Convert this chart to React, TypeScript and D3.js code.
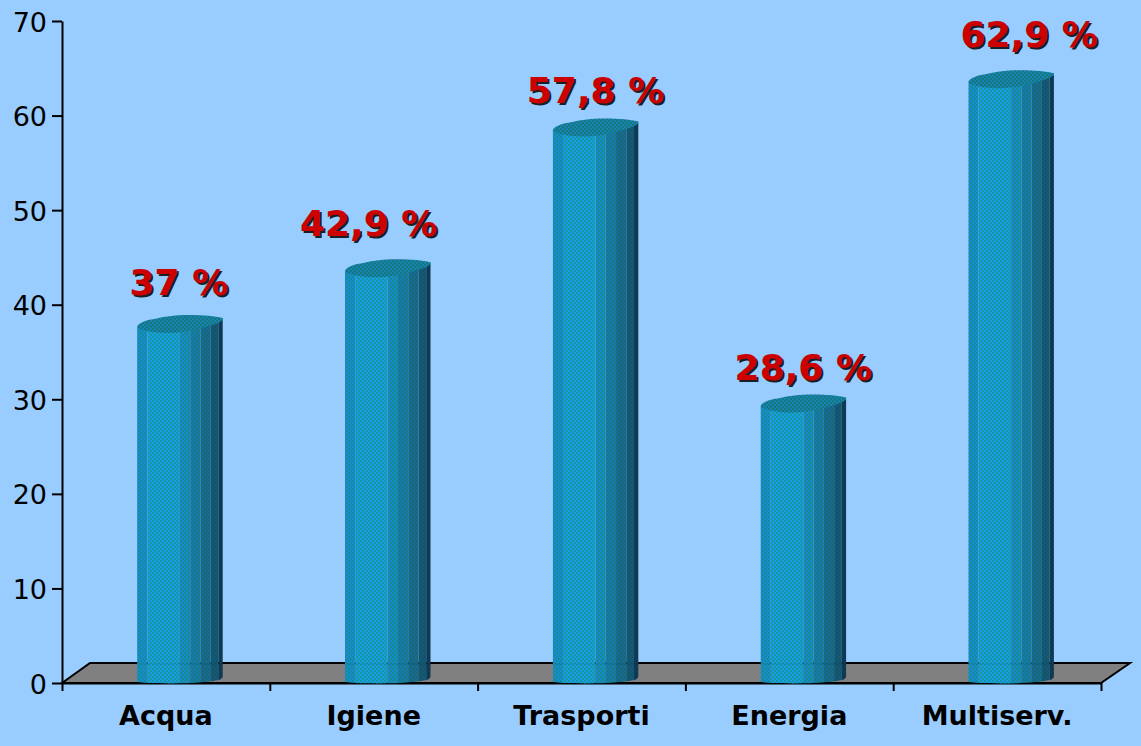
import React, {useEffect, useRef} from "react";
import * as d3 from "d3";

const categories = ["Acqua", "Igiene", "Trasporti", "Energia", "Multiserv."];
const values = [37, 42.9, 57.8, 28.6, 62.9];
const valueLabels = ["37 %", "42,9 %", "57,8 %", "28,6 %", "62,9 %"];
const yTicks = [0, 10, 20, 30, 40, 50, 60, 70];

const W = 1141;
const H = 746;
const FONT = "'DejaVu Sans', Verdana, sans-serif";

// the labels were placed by hand in the original, so they don't sit at a fixed distance
const labelGap = [38, 41, 33, 33, 41];
const labelShift = [0, -18, 1, 1, 19];

// vertical strips of the cylinder: start, end (share of width), two dither colours
const strips: [number, number, string, string][] = [
    [0, 0.12, "#2088d0", "#0c90a0"],
    [0.12, 0.5, "#2498e8", "#0a9ca0"],
    [0.5, 0.62, "#2088c8", "#0c8c98"],
    [0.62, 0.74, "#1c78ac", "#107c8c"],
    [0.74, 0.86, "#1b6894", "#126a7a"],
    [0.86, 0.95, "#175878", "#10566a"],
    [0.95, 1.01, "#103c58", "#0e384e"],
];

const App = () => {
    const svgRef = useRef<SVGSVGElement | null>(null);

    useEffect(() => {
        const svg = d3.select(svgRef.current);
        svg.selectAll("*").remove();

        const x0 = 62, x1 = 1101, yBase = 683, yTop = 21, depthX = 28, depthY = 20;

        const y = d3.scaleLinear().domain([0, 70]).range([yBase, yTop]);
        const xBand = d3.scaleBand<string>().domain(categories).range([x0, x1])
            .paddingInner(0.588).paddingOuter(0.294);
        const xCat = d3.scaleBand<string>().domain(categories).range([x0, x1]);
        const xEdge = d3.scaleLinear().domain([0, categories.length]).range([x0, x1]);

        svg.append("rect").attr("width", W).attr("height", H).attr("fill", "#99ccff");

        // dither patterns
        const defs = svg.append("defs");
        const addPattern = (id: string, a: string, b: string) => {
            const p = defs.append("pattern").attr("id", id)
                .attr("width", 4).attr("height", 4).attr("patternUnits", "userSpaceOnUse");
            p.append("rect").attr("width", 4).attr("height", 4).attr("fill", a);
            p.append("rect").attr("width", 2).attr("height", 2).attr("fill", b);
            p.append("rect").attr("x", 2).attr("y", 2).attr("width", 2).attr("height", 2).attr("fill", b);
        };
        strips.forEach((s, i) => addPattern("strip" + i, s[2], s[3]));
        addPattern("lid", "#1c80b0", "#0f7a80");

        // floor
        svg.append("path")
            .attr("d", `M${x0},${yBase}L${x0 + depthX},${yBase - depthY}L${x1 + depthX + 1},${yBase - depthY}L${x1},${yBase}Z`)
            .attr("fill", "#808080")
            .attr("stroke", "#000")
            .attr("stroke-width", 2);

        // axes
        const yAxis = d3.axisLeft(y).tickValues(yTicks).tickSize(10).tickPadding(5).tickSizeOuter(0);
        const gy = svg.append("g").attr("transform", `translate(${x0},0)`).call(yAxis as any);
        gy.selectAll("text").attr("font-family", FONT).attr("font-size", 27).attr("fill", "#000").attr("y", 1.5);

        const edgeAxis = d3.axisBottom(xEdge).ticks(categories.length).tickSize(8).tickSizeOuter(0).tickFormat(() => "");
        svg.append("g").attr("transform", `translate(0,${yBase})`).call(edgeAxis as any);

        const catAxis = d3.axisBottom(xCat).tickSize(0).tickPadding(23);
        const gc = svg.append("g").attr("transform", `translate(0,${yBase})`).call(catAxis as any);
        gc.select(".domain").remove();
        gc.selectAll("text").attr("font-family", FONT).attr("font-size", 27).attr("font-weight", "bold").attr("fill", "#000");

        svg.selectAll(".domain, .tick line").attr("stroke", "#000").attr("stroke-width", 2);

        // cylinders
        categories.forEach((cat, i) => {
            const left = (xBand(cat) as number) + depthX / 2;
            const w = xBand.bandwidth();
            const right = left + w;
            const top = y(values[i]);
            const g = svg.append("g");

            const body = `M${left},${top - 6}L${left},${yBase - 1}L${left + w * 0.12},${yBase}`
                + `C${left + w * 0.5},${yBase + 1} ${left + w * 0.8},${yBase} ${left + w * 0.95},${yBase - 3}`
                + `Q${right},${yBase - 4} ${right},${yBase - 7}L${right},${top - 14}Z`;
            defs.append("clipPath").attr("id", "body" + i).append("path").attr("d", body);

            const inner = g.append("g").attr("clip-path", `url(#body${i})`);
            strips.forEach((s, k) => {
                inner.append("rect")
                    .attr("x", left + s[0] * w)
                    .attr("y", top - 20)
                    .attr("width", (s[1] - s[0]) * w)
                    .attr("height", yBase - top + 24)
                    .attr("fill", `url(#strip${k})`);
            });
            // floor edge showing faintly through the column
            inner.append("line")
                .attr("x1", left).attr("x2", right)
                .attr("y1", yBase - depthY + 1).attr("y2", yBase - depthY + 1)
                .attr("stroke", "#000").attr("stroke-opacity", 0.12).attr("stroke-width", 1);

            const lid = `M${left},${top - 6}C${left + 1},${top - 10} ${left + w * 0.1},${top - 13} ${left + w * 0.2},${top - 14}`
                + `C${left + w * 0.35},${top - 17} ${left + w * 0.45},${top - 18} ${left + w * 0.6},${top - 18}`
                + `C${left + w * 0.8},${top - 18} ${left + w * 0.9},${top - 17} ${right},${top - 15}`
                + `C${right + 1},${top - 13} ${right - 2},${top - 10} ${left + w * 0.8},${top - 6}`
                + `C${left + w * 0.65},${top - 2} ${left + w * 0.5},${top} ${left + w * 0.35},${top}`
                + `C${left + w * 0.2},${top} ${left + 2},${top - 3} ${left},${top - 6}Z`;
            g.append("path").attr("d", lid).attr("fill", "url(#lid)");
        });

        // value labels, dark copy first for the shadow
        [["#000", 2, 0.85], ["#cc0000", 0, 1]].forEach(([color, off, op]) => {
            svg.append("g").selectAll("text")
                .data(categories)
                .join("text")
                .attr("x", (d, i) => (xBand(d) as number) + xBand.bandwidth() / 2 + depthX / 2 + labelShift[i] + (off as number) - 1)
                .attr("y", (d, i) => y(values[i]) - labelGap[i] + (off as number))
                .attr("text-anchor", "middle")
                .attr("font-family", FONT)
                .attr("font-size", 36)
                .attr("font-weight", "bold")
                .attr("fill", color as string)
                .attr("fill-opacity", op as number)
                .text((d, i) => valueLabels[i]);
        });
    }, []);

    return (
        <svg ref={svgRef} width={W} height={H} style={{position: "absolute", left: 0, top: 0}}/>
    );
};

export default App;
